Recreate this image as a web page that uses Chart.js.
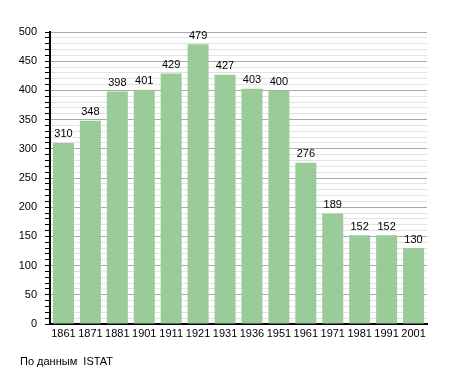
<!DOCTYPE html>
<html lang="ru">
<head>
    <meta charset="UTF-8">
    <title>Население</title>
    <style>
        body { margin: 0; background: #fff; font-family: "Liberation Sans", Arial, sans-serif; }
        .wrap { position: relative; width: 455px; height: 373px; }
        .chart-box { position: absolute; left: 0; top: 0; width: 455px; height: 373px; }
        .source { position: absolute; left: 20px; top: 355px; font-size: 11px; color: #000; }
    </style>
</head>
<body>
    <div class="wrap">
        <div class="chart-box"><canvas id="popChart"></canvas></div>
        <div class="source">По данным&nbsp; ISTAT</div>
    </div>

    <script src="https://cdn.jsdelivr.net/npm/chart.js"></script>
    <script>
        // census years and population
        const years = ['1861', '1871', '1881', '1901', '1911', '1921', '1931', '1936', '1951', '1961', '1971', '1981', '1991', '2001'];
        const population = [310, 348, 398, 401, 429, 479, 427, 403, 400, 276, 189, 152, 152, 130];
        const yMax = 500;

        // value labels above each bar
        const barLabels = {
            id: 'barLabels',
            afterDatasetsDraw(chart) {
                const ctx = chart.ctx;
                const meta = chart.getDatasetMeta(0);
                ctx.save();
                ctx.font = '11px "Liberation Sans", Arial, sans-serif';
                ctx.fillStyle = '#000';
                ctx.textAlign = 'center';
                ctx.textBaseline = 'bottom';
                meta.data.forEach((bar, i) => {
                    ctx.fillText(population[i], bar.x, bar.y - 3);
                });
                ctx.restore();
            }
        };

        const ctx = document.getElementById('popChart').getContext('2d');
        new Chart(ctx, {
            type: 'bar',
            data: {
                labels: years,
                datasets: [{
                    data: population,
                    backgroundColor: '#99cc99',
                    borderWidth: 0,
                    barPercentage: 0.78,
                    categoryPercentage: 1
                }]
            },
            options: {
                responsive: true,
                maintainAspectRatio: false,
                animation: false,
                layout: { padding: { top: 32, right: 28, bottom: 33, left: 0 } },
                plugins: {
                    legend: { display: false },
                    tooltip: { enabled: false }
                },
                scales: {
                    x: {
                        grid: { display: false, drawTicks: false },
                        border: { color: '#000', width: 2 },
                        ticks: {
                            color: '#000',
                            font: { family: '"Liberation Sans", Arial, sans-serif', size: 11 },
                            maxRotation: 0,
                            autoSkip: false,
                            padding: 3
                        },
                        afterFit(scale) { scale.height = 16; }
                    },
                    y: {
                        min: 0,
                        max: yMax,
                        border: { color: '#000', width: 2 },
                        grid: {
                            color: c => (c.tick.value % 50 === 0 ? '#aaaaaa' : '#e2e2e2'),
                            tickColor: '#000',
                            tickLength: 5
                        },
                        ticks: {
                            stepSize: 10,
                            autoSkip: false,
                            color: '#000',
                            padding: 8,
                            font: { family: '"Liberation Sans", Arial, sans-serif', size: 11 },
                            callback: v => (v % 50 === 0 ? v : '')
                        },
                        afterFit(scale) { scale.width = 50; }
                    }
                }
            },
            plugins: [barLabels]
        });
    </script>
</body>
</html>
